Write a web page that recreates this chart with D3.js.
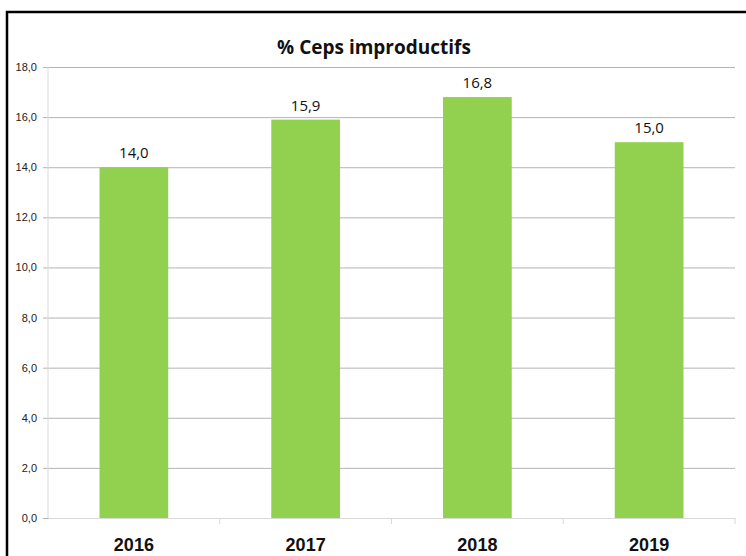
<!DOCTYPE html>
<html>
<head>
<meta charset="utf-8">
<script src="https://cdn.jsdelivr.net/npm/d3@7"></script>
<style>
  body { margin: 0; background: #fff; }
  svg { display: block; font-family: "Open Sans", "Noto Sans", sans-serif; }
</style>
</head>
<body>
<svg id="chart" width="746" height="556"></svg>
<script>
const years = ['2016', '2017', '2018', '2019']
const values = [14.0, 15.9, 16.8, 15.0]
const yTicks = [0, 2, 4, 6, 8, 10, 12, 14, 16, 18]

const svg = d3.select('#chart')
const margin = { left: 48, right: 11, top: 67, bottom: 38 }
const width = 746, height = 556

const fmt = d => d.toFixed(1).replace('.', ',')

const x = d3.scaleBand()
  .domain(years)
  .range([margin.left, width - margin.right])

const y = d3.scaleLinear()
  .domain([0, 18])
  .range([height - margin.bottom, margin.top])

// frame
svg.append('path')
  .attr('d', `M7,556 L7,12 L746,12`)
  .attr('fill', 'none')
  .attr('stroke', '#000')
  .attr('stroke-width', 2.5)

// gridlines + y labels
const yAxis = d3.axisLeft(y)
  .tickValues(yTicks)
  .tickSize(-(width - margin.right - margin.left + 5))
  .tickPadding(6)
  .tickFormat(fmt)

svg.append('g')
  .attr('transform', `translate(${margin.left - 5},0)`)
  .call(yAxis)
  .call(g => g.select('.domain').remove())
  .call(g => g.selectAll('line').attr('stroke', '#b4b4b4'))
  .call(g => g.selectAll('text').attr('font-size', 11).attr('fill', '#222'))

// y axis line
svg.append('line')
  .attr('x1', margin.left).attr('x2', margin.left)
  .attr('y1', y(18)).attr('y2', y(0))
  .attr('stroke', '#d9d9d9')

// bars
svg.append('g')
  .selectAll('rect')
  .data(values)
  .enter()
  .append('rect')
  .attr('x', (d, i) => x(years[i]) + x.bandwidth() * 0.3)
  .attr('width', x.bandwidth() * 0.4)
  .attr('y', d => y(d))
  .attr('height', d => y(0) - y(d))
  .style('fill', '#92d050')

// value labels
svg.append('g')
  .selectAll('text')
  .data(values)
  .enter()
  .append('text')
  .attr('x', (d, i) => x(years[i]) + x.bandwidth() / 2)
  .attr('y', d => y(d) - 9)
  .attr('text-anchor', 'middle')
  .attr('font-size', 15)
  .attr('fill', '#111')
  .text(fmt)

// x axis
const xAxis = d3.axisBottom(x).tickSize(0).tickPadding(20)
svg.append('g')
  .attr('transform', `translate(0,${y(0)})`)
  .call(xAxis)
  .call(g => g.select('.domain').attr('stroke', '#d9d9d9'))
  .call(g => g.selectAll('text')
    .attr('font-size', 18).attr('font-weight', 'bold').attr('fill', '#111'))

// category separators
svg.append('g')
  .selectAll('line')
  .data(years)
  .enter()
  .append('line')
  .attr('x1', d => x(d) + x.bandwidth())
  .attr('x2', d => x(d) + x.bandwidth())
  .attr('y1', y(0))
  .attr('y2', y(0) + 6)
  .attr('stroke', '#d9d9d9')

// title
svg.append('text')
  .attr('x', 374)
  .attr('y', 54)
  .attr('text-anchor', 'middle')
  .attr('font-size', 19)
  .attr('font-weight', 'bold')
  .attr('fill', '#111')
  .text('% Ceps improductifs')
</script>
</body>
</html>
